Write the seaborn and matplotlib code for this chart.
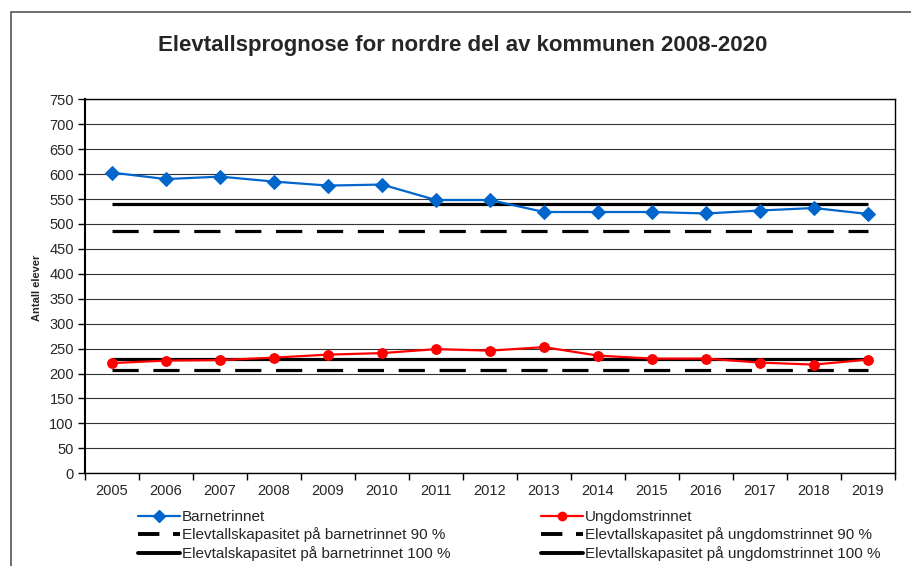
import numpy as np
import pandas as pd
import seaborn as sns
import matplotlib.pyplot as plt
from matplotlib.patches import Rectangle
from matplotlib.lines import Line2D

# data
years = [2005, 2006, 2007, 2008, 2009, 2010, 2011, 2012, 2013, 2014, 2015, 2016, 2017, 2018, 2019]
barnetrinnet = [603, 590, 595, 585, 577, 579, 548, 548, 524, 524, 524, 521, 527, 532, 520]
ungdomstrinnet = [221, 226, 227, 232, 238, 241, 249, 246, 253, 236, 230, 230, 222, 218, 228]
kap_barn_100 = 540
kap_barn_90 = 486
kap_ungdom_100 = 230
kap_ungdom_90 = 207

labels = {
    'barn': 'Barnetrinnet',
    'ungdom': 'Ungdomstrinnet',
    'barn90': 'Elevtallskapasitet på barnetrinnet 90 %',
    'ungdom90': 'Elevtallskapasitet på ungdomstrinnet 90 %',
    'barn100': 'Elevtalskapasitet på barnetrinnet 100 %',
    'ungdom100': 'Elevtallskapasitet på ungdomstrinnet 100 %',
}

df = pd.DataFrame({'year': years, 'barn': barnetrinnet, 'ungdom': ungdomstrinnet})

sns.set_theme(style='white')
plt.rcParams['font.family'] = ['Liberation Sans', 'DejaVu Sans']

fig = plt.figure(figsize=(9.12, 5.66), dpi=100)
ax = fig.add_axes([85 / 912, 1 - 473.3 / 566, 810 / 912, 374 / 566])

blue = '#0066CC'
red = '#FF0000'
dash = (8.2, 4.6)

# kapasitetslinjer
ax.hlines(kap_barn_90, years[0], years[-1], colors='black', lw=2.3, linestyles=[(0, dash)], zorder=2)
ax.hlines(kap_ungdom_90, years[0], years[-1], colors='black', lw=2.3, linestyles=[(0, dash)], zorder=2)
ax.hlines(kap_barn_100, years[0], years[-1], colors='black', lw=2.3, zorder=2)
ax.hlines(kap_ungdom_100, years[0], years[-1], colors='black', lw=2.3, zorder=2)

# elevtall
sns.lineplot(data=df, x='year', y='barn', ax=ax, color=blue, lw=1.6, marker='D',
             markersize=7, markeredgecolor=blue, zorder=3)
sns.lineplot(data=df, x='year', y='ungdom', ax=ax, color=red, lw=1.6, marker='o',
             markersize=7, markeredgecolor=red, zorder=3)

ax.set_xlim(years[0] - 0.5, years[-1] + 0.5)
ax.set_ylim(0, 750)
ax.set_yticks(np.arange(0, 751, 50))
ax.set_xticks(years)
ax.set_xticks(np.arange(years[0] - 0.5, years[-1] + 1, 1), minor=True)
ax.set_xticklabels([str(y) for y in years])
ax.tick_params(axis='x', which='major', length=0, pad=8, labelsize=10.5)
ax.tick_params(axis='x', which='minor', bottom=True, length=5, width=1, color='black', direction='out')
ax.tick_params(axis='y', left=True, length=5, width=1, color='black', direction='out', pad=3, labelsize=10.5)
ax.grid(axis='y', color='#333333', lw=0.8)
ax.set_axisbelow(True)
for s in ax.spines.values():
    s.set_color('black')
    s.set_linewidth(1.0)
ax.spines['left'].set_linewidth(1.5)
ax.set_xlabel('')
ax.set_ylabel('')

fig.text(463 / 912, 1 - 46 / 566, 'Elevtallsprognose for nordre del av kommunen 2008-2020',
         ha='center', va='center', fontsize=16, fontweight='bold')
fig.text(37 / 912, 1 - 288 / 566, 'Antall elever', rotation=90, ha='center', va='center',
         fontsize=8, fontweight='bold')

# ramme rundt diagramområdet (kuttet til høyre og nede)
fig.patches.append(Rectangle((11 / 912, -0.1), 1.2, 1 - 12 / 566 + 0.1, transform=fig.transFigure,
                             fill=False, edgecolor='#555555', lw=1.2))

h_barn = [
    Line2D([], [], color=blue, lw=1.6, marker='D', markersize=6),
    Line2D([], [], color='black', lw=2.8, dashes=(5.5, 3.5)),
    Line2D([], [], color='black', lw=2.8),
]
h_ungdom = [
    Line2D([], [], color=red, lw=1.6, marker='o', markersize=6),
    Line2D([], [], color='black', lw=2.8, dashes=(5.5, 3.5)),
    Line2D([], [], color='black', lw=2.8),
]
leg_kw = dict(loc='upper left', frameon=False, fontsize=11, handlelength=2.75, handletextpad=0.13,
              labelspacing=0.23, borderpad=0, borderaxespad=0)
fig.legend(h_barn, [labels['barn'], labels['barn90'], labels['barn100']],
           bbox_to_anchor=(138 / 912, 1 - 510 / 566), **leg_kw)
fig.legend(h_ungdom, [labels['ungdom'], labels['ungdom90'], labels['ungdom100']],
           bbox_to_anchor=(541 / 912, 1 - 510 / 566), **leg_kw)

fig.savefig('out.png', dpi=100)
